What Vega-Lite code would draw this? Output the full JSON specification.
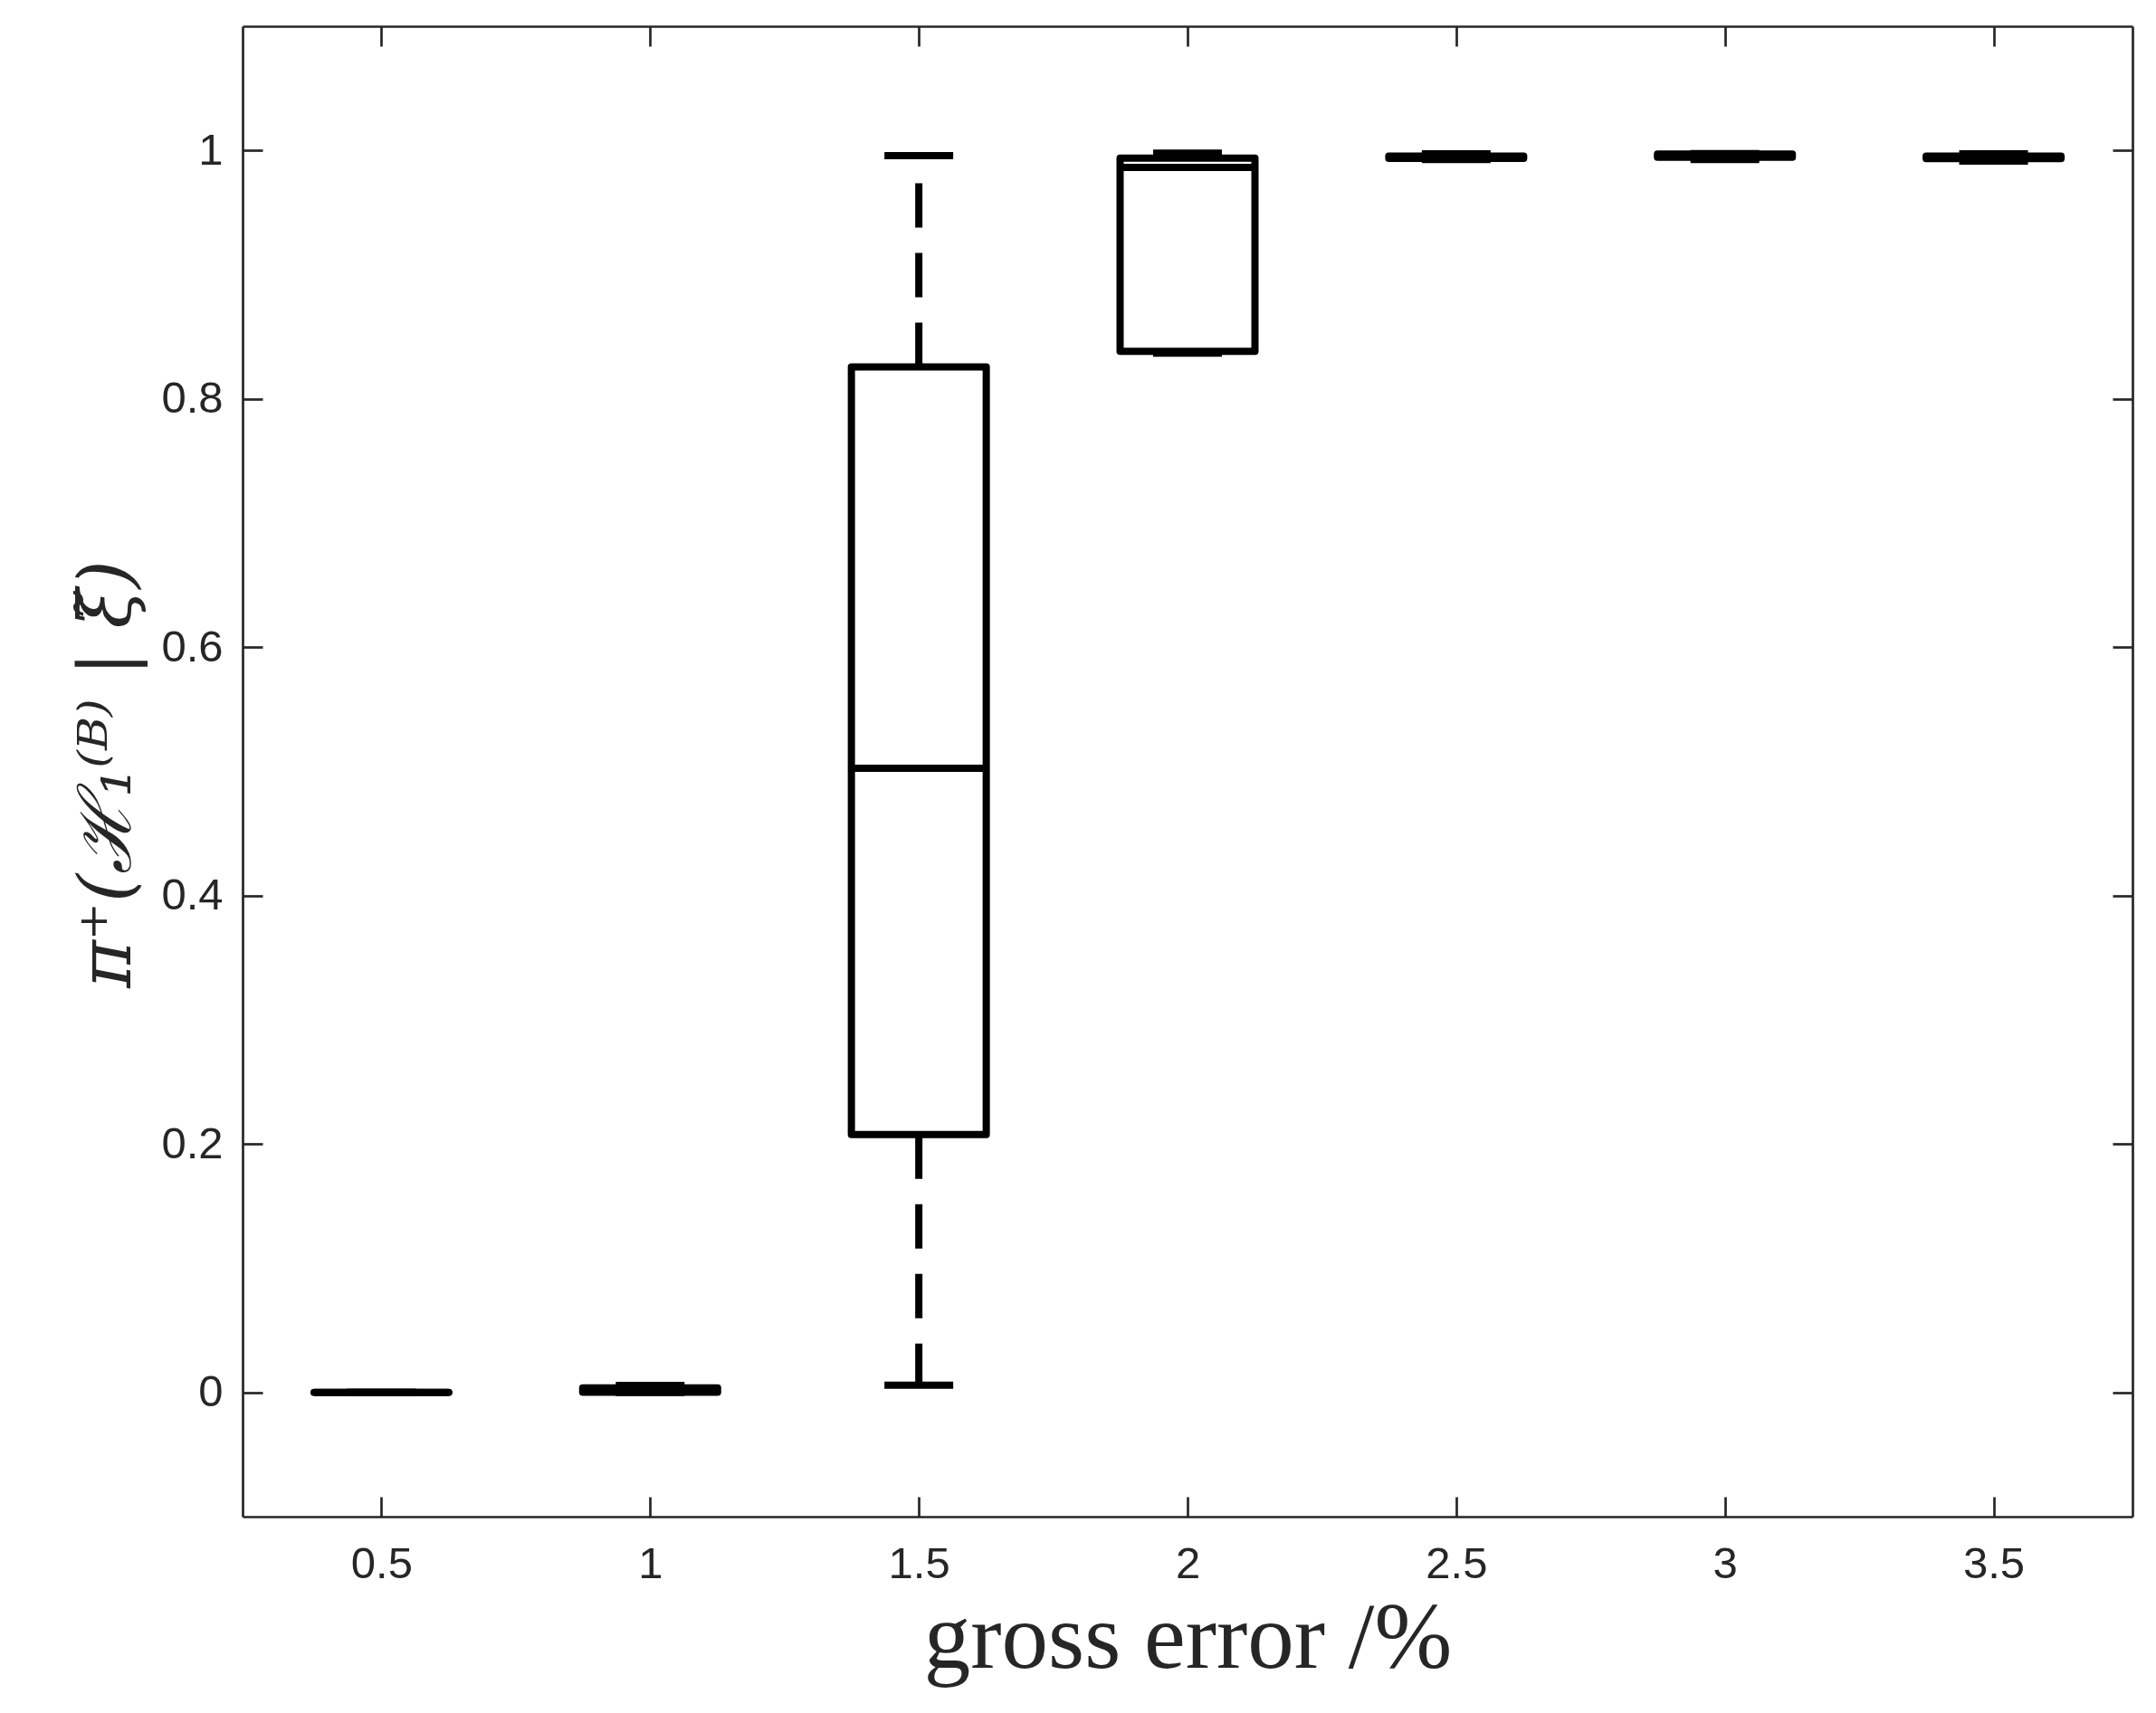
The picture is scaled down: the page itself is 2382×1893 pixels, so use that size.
{
  "$schema": "https://vega.github.io/schema/vega-lite/v6.json",
  "width": 2088,
  "height": 1647,
  "autosize": "none",
  "padding": {"left": 268, "top": 29, "right": 26, "bottom": 217},
  "background": "white",
  "data": {
    "values": [
      {"gross_error": 0.5, "min": 0, "q1": 0, "median": 0, "q3": 0, "max": 0},
      {"gross_error": 1.0, "min": 0, "q1": 0.0002, "median": 0.001, "q3": 0.0036, "max": 0.0056},
      {"gross_error": 1.5, "min": 0.0058, "q1": 0.2076, "median": 0.5025, "q3": 0.8257, "max": 0.9959},
      {"gross_error": 2.0, "min": 0.8368, "q1": 0.8383, "median": 0.9863, "q3": 0.9938, "max": 0.9978},
      {"gross_error": 2.5, "min": 0.9927, "q1": 0.9937, "median": 0.9945, "q3": 0.9954, "max": 0.9973},
      {"gross_error": 3.0, "min": 0.9927, "q1": 0.9945, "median": 0.996, "q3": 0.997, "max": 0.9974},
      {"gross_error": 3.5, "min": 0.9915, "q1": 0.9934, "median": 0.9945, "q3": 0.9954, "max": 0.9973}
    ]
  },
  "config": {
    "view": {"stroke": null},
    "axis": {
      "grid": false,
      "domainColor": "#262626",
      "domainWidth": 2.7,
      "tickColor": "#262626",
      "tickWidth": 2.7,
      "tickSize": -22,
      "labelColor": "#262626",
      "labelFont": "Liberation Sans",
      "labelFontSize": 49,
      "titleColor": "#262626",
      "titleFontWeight": "normal"
    }
  },
  "resolve": {"axis": {"x": "independent", "y": "independent"}},
  "layer": [
    {
      "mark": {"type": "rule", "color": "black", "strokeWidth": 8, "strokeDash": [49, 28], "strokeCap": "butt"},
      "encoding": {
        "x": {"field": "gross_error", "type": "quantitative", "scale": {"domain": [0.25, 3.75], "nice": false, "zero": false}, "axis": null},
        "y": {"field": "q1", "type": "quantitative", "scale": {"domain": [-0.1, 1.1], "nice": false, "zero": false}, "axis": null},
        "y2": {"field": "min"}
      }
    },
    {
      "mark": {"type": "rule", "color": "black", "strokeWidth": 8, "strokeDash": [49, 28], "strokeCap": "butt"},
      "encoding": {
        "x": {"field": "gross_error", "type": "quantitative", "axis": null},
        "y": {"field": "q3", "type": "quantitative", "axis": null},
        "y2": {"field": "max"}
      }
    },
    {
      "mark": {"type": "tick", "orient": "horizontal", "color": "black", "size": 76, "thickness": 8, "opacity": 1},
      "encoding": {
        "x": {"field": "gross_error", "type": "quantitative", "axis": null},
        "y": {"field": "min", "type": "quantitative", "axis": null}
      }
    },
    {
      "mark": {"type": "tick", "orient": "horizontal", "color": "black", "size": 76, "thickness": 8, "opacity": 1},
      "encoding": {
        "x": {"field": "gross_error", "type": "quantitative", "axis": null},
        "y": {"field": "max", "type": "quantitative", "axis": null}
      }
    },
    {
      "mark": {"type": "bar", "width": 149, "fill": "white", "fillOpacity": 0, "stroke": "black", "strokeWidth": 8, "strokeJoin": "round"},
      "encoding": {
        "x": {
          "field": "gross_error", "type": "quantitative",
          "axis": {"orient": "bottom", "values": [0.5, 1, 1.5, 2, 2.5, 3, 3.5], "format": "~g", "labelPadding": 50,
                   "title": "gross error  /%", "titleFont": "Liberation Serif", "titleFontSize": 103, "titleY": 166, "titleBaseline": "alphabetic"}
        },
        "y": {
          "field": "q1", "type": "quantitative",
          "axis": {"orient": "left", "values": [0, 0.2, 0.4, 0.6, 0.8, 1], "format": "~g", "labelPadding": 44,
                   "title": "π⁺(ℋ₁⁽ᴮ⁾ | ξ̃)", "titleFont": "DejaVu Serif", "titleFontStyle": "italic", "titleFontSize": 80, "titleAngle": -90,
                   "titleX": -125, "titleY": 826, "titleAlign": "center", "titleBaseline": "alphabetic"}
        },
        "y2": {"field": "q3"}
      }
    },
    {
      "mark": {"type": "tick", "orient": "horizontal", "color": "black", "size": 149, "thickness": 8, "opacity": 1},
      "encoding": {
        "x": {
          "field": "gross_error", "type": "quantitative",
          "axis": {"orient": "top", "values": [0.5, 1, 1.5, 2, 2.5, 3, 3.5], "labels": false, "title": null}
        },
        "y": {
          "field": "median", "type": "quantitative",
          "axis": {"orient": "right", "values": [0, 0.2, 0.4, 0.6, 0.8, 1], "labels": false, "title": null}
        }
      }
    }
  ]
}
